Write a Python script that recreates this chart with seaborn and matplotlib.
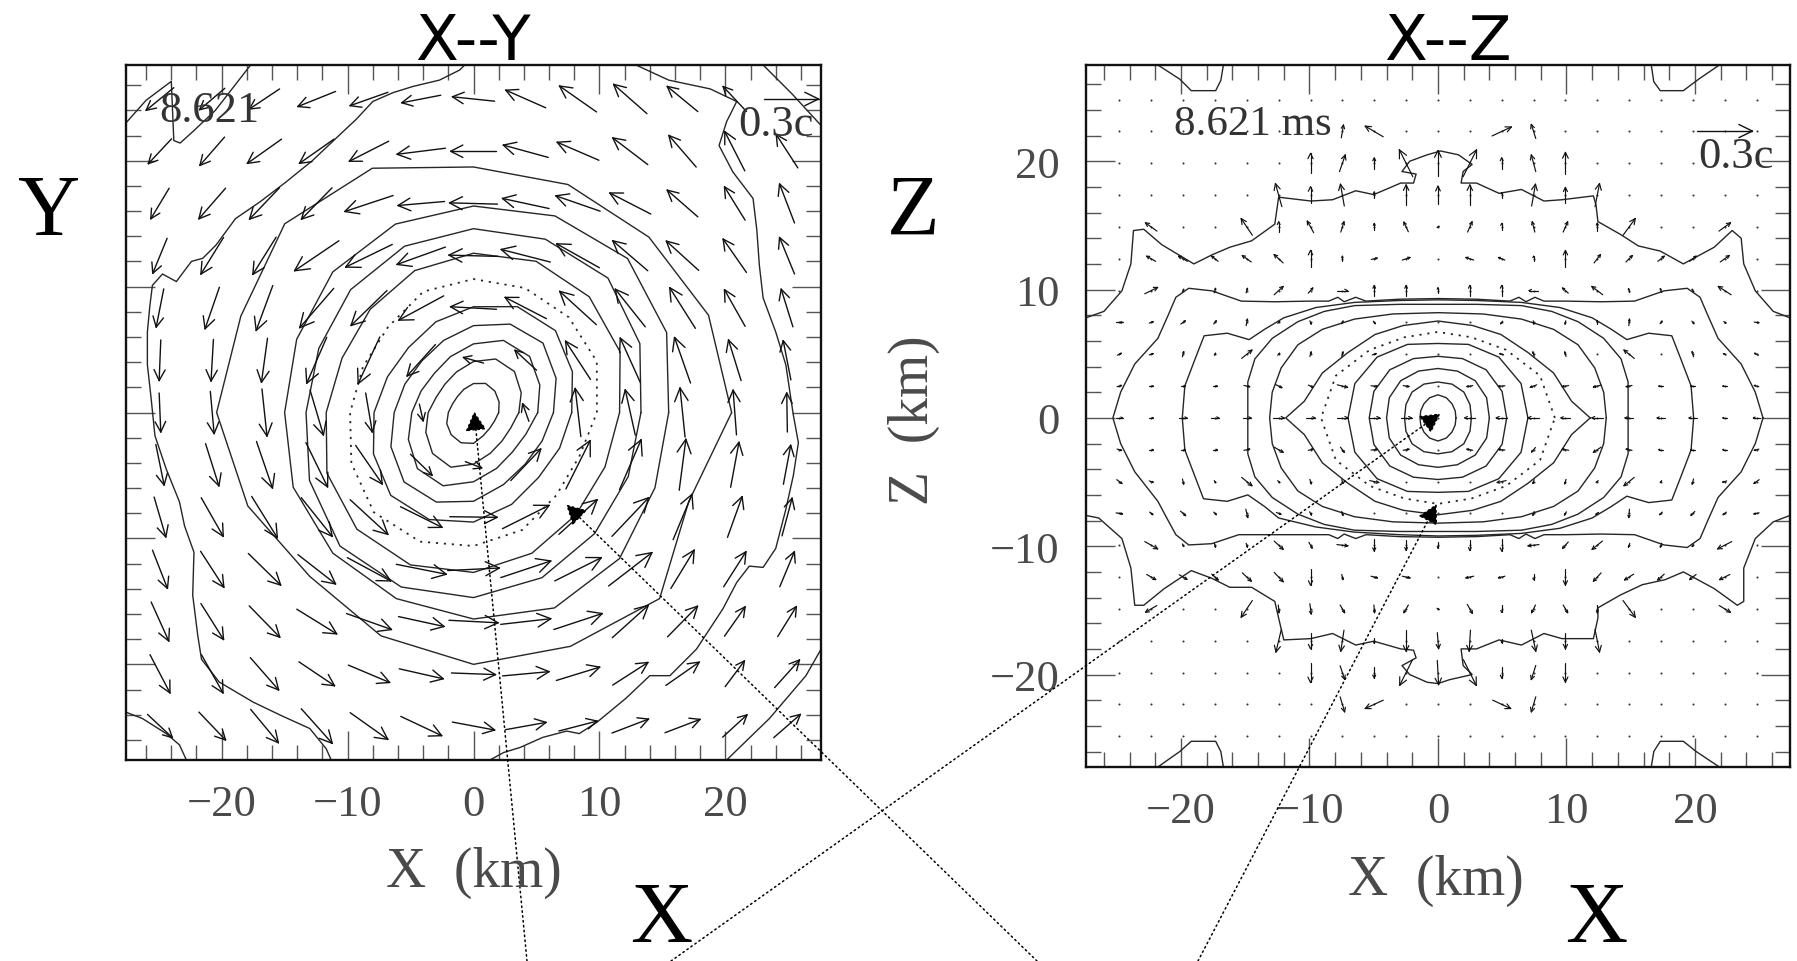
import numpy as np
import pandas as pd
import matplotlib
matplotlib.use("Agg")
import matplotlib.pyplot as plt
from matplotlib.collections import LineCollection
from matplotlib.ticker import MultipleLocator, FixedLocator
import seaborn as sns

# ============================ DATA (km) ============================
TICKS = [-20, -10, 0, 10, 20]

# ---- X--Y panel : velocity field on a 13x13 grid (rows from y=+24.9 down to y=-24.9)
XY_GRID = [-24.9, -20.75, -16.6, -12.45, -8.3, -4.15, 0.0, 4.15, 8.3, 12.45, 16.6, 20.75, 24.9]
nan = float("nan")
XY_U = [
    [-2.2, -2.0, -2.4, -3.0, -3.0, -3.1, -3.35, -3.17, -2.94, -2.65, -2.43, -1.85, nan],
    [-1.85, -1.96, -2.72, -2.75, -3.12, -3.84, -3.63, -3.57, -3.31, -2.78, -2.17, -1.59, -1.72],
    [-1.46, -2.12, -2.38, -2.43, -3.84, -3.7, -3.8, -3.7, -3.52, -3.25, -2.43, -1.64, -1.19],
    [-1.14, -1.8, -1.85, -3.52, -3.7, -3.84, -3.9, -3.9, -3.39, -2.78, -2.57, -1.85, -1.19],
    [-0.6, -1.14, -1.32, -2.7, -2.86, -3.57, -3.65, -3.28, -2.91, -2.38, -2.04, -1.64, -0.93],
    [-0.13, -0.19, -0.48, -1.59, -1.72, -2.25, -1.6, -1.72, -1.98, -1.59, -1.27, -1.0, -0.61],
    [0.13, 0.3, 0.4, 1.06, 0.53, 0.3, nan, -0.5, -0.45, -0.8, -0.4, -0.27, -0.05],
    [0.66, 1.06, 1.27, 1.72, 2.12, 1.72, 1.3, 2.38, 1.93, 1.72, 0.53, 0.66, 0.58],
    [0.93, 1.75, 2.04, 2.46, 2.99, 3.3, 3.76, 3.7, 3.04, 2.91, 1.5, 1.16, 0.8],
    [1.19, 1.85, 2.57, 2.99, 3.44, 3.97, 4.1, 3.97, 3.7, 3.44, 1.85, 1.77, 1.16],
    [1.4, 1.8, 2.43, 3.17, 3.57, 3.62, 3.9, 3.97, 3.84, 2.86, 2.38, 1.64, 1.48],
    [1.59, 1.72, 2.25, 2.83, 3.28, 3.49, 3.5, 3.7, 3.44, 2.8, 2.65, 1.53, 1.98],
    [1.98, 2.12, 2.2, 2.46, 2.99, 3.25, 3.36, 3.23, 3.04, 2.9, 2.78, 1.93, 2.12],
]
XY_V = [
    [-1.8, -1.7, -1.6, -1.2, -1.06, -0.6, 0.35, 1.4, 2.06, 2.33, 2.0, 1.98, nan],
    [-1.98, -2.25, -1.93, -1.93, -1.59, -0.48, 0.0, 0.98, 1.43, 2.12, 2.51, 3.12, 2.65],
    [-2.43, -2.43, -2.49, -2.49, -1.27, -0.32, 0.1, 0.8, 1.22, 1.67, 2.12, 2.65, 3.1],
    [-2.78, -2.91, -2.96, -2.38, -1.8, -1.38, 0.1, 1.0, 1.9, 2.38, 2.33, 2.65, 2.9],
    [-3.04, -3.3, -3.57, -3.12, -2.78, -1.93, 0.2, 1.69, 2.65, 2.99, 3.23, 2.91, 2.99],
    [-3.23, -3.3, -3.5, -3.65, -3.7, -2.5, 0.45, 1.59, 3.04, 3.52, 3.62, 3.23, 3.12],
    [-3.1, -3.36, -3.75, -3.57, -3.1, -1.33, nan, 1.4, 3.83, 3.6, 3.9, 3.55, 3.1],
    [-3.23, -3.36, -3.7, -3.52, -3.07, -1.67, -0.5, 2.51, 3.84, 3.97, 4.05, 3.57, 3.1],
    [-3.17, -3.07, -3.28, -3.07, -2.75, -1.64, -0.05, 1.85, 2.75, 3.07, 3.6, 3.23, 2.99],
    [-3.04, -2.86, -2.51, -2.33, -1.85, -0.79, 0.2, 1.32, 1.85, 2.65, 3.04, 2.78, 2.78],
    [-3.1, -2.86, -2.49, -1.96, -1.27, -0.79, -0.2, 0.45, 1.27, 2.57, 2.43, 2.33, 2.38],
    [-3.04, -3.04, -2.57, -1.9, -1.38, -0.79, -0.13, 0.34, 1.06, 1.8, 1.85, 2.04, 2.2],
    [-1.85, -2.22, -2.65, -2.75, -2.12, -1.53, -0.63, 0.58, 0.79, 1.11, 1.06, 1.77, 1.85],
]

# ---- X--Y panel : closed density contours, radius (km) read every 22.5 deg
ANGLES = [0, 22.5, 45, 67.5, 90, 112.5, 135, 157.5, 180, 202.5, 225, 247.5, 270, 292.5, 315, 337.5]
XY_RADII = [
    [2.0, 2.2, 2.4, 2.5, 2.3, 2.0, 1.8, 1.8, 2.0, 2.3, 2.5, 2.6, 2.45, 2.0, 1.8, 1.8],
    [3.6, 4.1, 4.6, 4.6, 4.05, 3.5, 3.2, 3.2, 3.6, 4.1, 4.6, 4.7, 4.1, 3.5, 3.2, 3.2],
    [5.1, 5.7, 6.3, 6.2, 5.45, 4.8, 4.4, 4.5, 4.9, 5.6, 6.3, 6.3, 5.5, 4.8, 4.4, 4.5],
    [6.35, 7.1, 7.8, 7.6, 6.9, 6.2, 5.8, 5.9, 6.3, 7.1, 7.8, 7.7, 7.05, 6.2, 5.8, 5.9],
    [7.8, 8.5, 9.2, 9.1, 8.4, 7.8, 7.3, 7.4, 7.9, 8.6, 9.3, 9.2, 8.7, 7.9, 7.3, 7.4],
    [11.6, 12.6, 13.0, 13.0, 12.65, 12.2, 11.6, 11.3, 11.7, 12.6, 13.1, 13.1, 12.7, 12.1, 11.5, 11.3],
    [13.3, 14.3, 15.1, 14.9, 14.6, 14.3, 13.8, 13.3, 13.3, 14.1, 15.0, 15.0, 14.7, 14.2, 13.6, 13.3],
    [15.5, 16.6, 17.3, 16.9, 16.4, 16.2, 15.8, 15.2, 15.0, 15.5, 15.8, 16.0, 16.4, 16.8, 16.4, 15.6],
    [20.5, 20.2, 19.7, 19.6, 19.5, 21.0, 21.2, 20.0, 20.4, 19.4, 18.4, 19.2, 20.0, 20.1, 20.9, 18.5],
]
XY_DOTTED_RADII = [9.8, 10.6, 10.7, 10.7, 10.6, 10.4, 9.6, 9.5, 9.8, 10.5, 11.2, 11.1, 10.6, 10.1, 9.3, 9.1]

# ---- X--Y panel : open outer contours (x, y) pairs
XY_OUTER_LEFT = [(-0.7, 27.6), (-1.1, 27.2), (-2.7, 26.4), (-4.8, 25.9), (-6.4, 25.4), (-8.0, 24.7),
                 (-9.3, 23.3), (-10.9, 21.8), (-12.8, 20.0), (-14.9, 18.3), (-17.0, 16.7), (-18.9, 15.4),
                 (-20.45, 13.3), (-21.5, 12.25), (-22.4, 12.0), (-23.6, 10.4), (-24.7, 11.0), (-25.5, 10.1),
                 (-25.7, 8.5), (-25.9, 6.4), (-25.9, 3.8), (-25.6, 1.1), (-25.3, -1.84), (-24.4, -4.5),
                 (-23.35, -7.1), (-22.95, -9.0), (-22.2, -11.1), (-22.3, -14.5), (-21.9, -17.7),
                 (-21.6, -19.6), (-20.2, -21.4), (-17.5, -23.0), (-15.2, -24.1), (-13.0, -25.1),
                 (-11.7, -26.7), (-11.3, -27.6)]
XY_OUTER_RIGHT = [(12.9, 27.6), (15.5, 26.4), (18.8, 25.7), (20.9, 24.7), (20.1, 23.1), (19.5, 21.2),
                  (20.6, 19.1), (22.2, 17.0), (22.5, 14.5), (22.7, 11.7), (23.0, 9.1), (24.0, 6.4),
                  (24.8, 3.8), (25.4, -0.2), (25.8, -2.4), (25.4, -5.0), (24.8, -7.7), (24.0, -10.8),
                  (23.0, -12.3), (21.9, -12.2), (20.9, -13.5), (19.8, -15.6), (17.7, -18.8), (15.6, -20.9),
                  (14.0, -20.9), (12.1, -22.7), (9.8, -24.6), (8.4, -25.5), (7.4, -25.3), (5.5, -25.8),
                  (3.7, -26.6), (2.4, -27.0), (1.3, -27.6)]
XY_CORNER_TL = [(-27.6, 23.0), (-26.0, 24.8), (-24.0, 26.3), (-23.8, 21.6), (-23.3, 21.4),
                (-22.3, 22.3), (-20.5, 24.0), (-17.7, 27.6)]
XY_CORNER_TR = [(23.0, 27.6), (25.3, 25.3), (27.6, 22.8)]
XY_CORNER_BL = [(-27.6, -23.8), (-26.3, -24.3), (-24.4, -25.5), (-23.35, -26.4), (-22.8, -27.6)]
XY_CORNER_BR = [(20.1, -27.6), (23.5, -24.3), (26.4, -20.9), (27.6, -18.8)]

# ---- X--Z panel : grid and non-zero velocity arrows (i, j, vx, vz); all other nodes ~ 0
XZ_GRID = [-24.8, -22.32, -19.84, -17.36, -14.88, -12.4, -9.92, -7.44, -4.96, -2.48, 0.0,
           2.48, 4.96, 7.44, 9.92, 12.4, 14.88, 17.36, 19.84, 22.32, 24.8]
XZ_ARROWS = [
    (-3, 9, 0.17, 1.0), (-2, 9, -1.4, 0.83), (2, 9, 1.5, 0.7), (3, 9, -0.35, 1.1),
    (-4, 8, 0, 1.55), (-3, 8, 0.45, 1.3), (-2, 8, 0, 0.85), (-1, 8, -1.05, 2.1), (0, 8, 0, 2.0),
    (1, 8, 1.05, 2.1), (2, 8, 0, 0.85), (3, 8, -0.35, 1.3), (4, 8, 0, 1.7),
    (-5, 7, -0.5, 1.8), (-4, 7, 0, 1.3), (-3, 7, -0.3, 1.7), (-2, 7, 0, 0.5), (-1, 7, 0, 1.6),
    (0, 7, 0, 1.4), (1, 7, 0, 1.6), (2, 7, 0, 0.4), (3, 7, 0.3, 1.7), (4, 7, 0, 1.2), (5, 7, 0.35, 1.8),
    (-9, 6, -0.9, 0.65), (-6, 6, -0.87, 1.3), (-5, 6, 0, 0.8), (-4, 6, -0.5, 0.9), (-3, 6, 0.25, 0.8),
    (-2, 6, 0, 0.55), (-1, 6, -0.35, 0.75), (0, 6, 0.15, 0.1), (1, 6, 0.35, 0.8), (2, 6, 0, 0.55),
    (3, 6, -0.2, 0.8), (4, 6, 0.35, 0.8), (5, 6, 0, 0.6), (6, 6, 0.95, 1.3), (9, 6, 0.9, 0.65),
    (-9, 5, -0.7, 0.4), (-8, 5, -0.7, 0.4), (-7, 5, -0.5, 0.4), (-6, 5, -0.7, 0.5), (-5, 5, -0.7, 0.65),
    (-4, 5, 0, 1.3), (-3, 5, 0, 0.4), (-2, 5, 0.45, 0.1), (-1, 5, 0.6, 0.2), (1, 5, -0.6, 0.2),
    (2, 5, -0.5, 0.2), (3, 5, 0, 0.4), (4, 5, 0, 1.3), (5, 5, 0.5, 0.65), (6, 5, 0.5, 0.5),
    (7, 5, 0.5, 0.4), (8, 5, 0.5, 0.4), (9, 5, 0.7, 0.5),
    (-9, 4, 1.0, 0.5), (-8, 4, 0.1, 0.2), (-7, 4, 0.1, 0.35), (-6, 4, 0.1, 0.35), (-5, 4, 0.7, 0.65),
    (-4, 4, 0.35, 0.4), (-3, 4, 0.8, 0), (-2, 4, 0, 0.8), (-1, 4, 0, 0.8), (0, 4, 0, 0.45),
    (1, 4, 0, 0.8), (2, 4, 0, 0.8), (3, 4, -0.7, 0), (4, 4, -0.45, 0.4), (5, 4, -0.85, 0.65),
    (6, 4, -0.1, 0.3), (7, 4, -0.1, 0.3), (8, 4, -0.1, 0.2), (9, 4, -1.0, 0.65),
    (-10, 3, 0.5, 0), (-9, 3, 0.3, 0.1), (-8, 3, 0.35, 0.25), (-7, 3, 0.2, 0.25), (-6, 3, 0.1, 0.5),
    (-5, 3, 0.15, 0.15), (-4, 3, 0.1, -0.25), (-3, 3, 0.1, 0.2), (-2, 3, 0.15, -0.2), (2, 3, -0.15, -0.2),
    (3, 3, 0.05, -0.25), (4, 3, -0.05, -0.25), (5, 3, 0, 0.3), (6, 3, 0.05, 0.5), (7, 3, 0.15, 0.2),
    (8, 3, 0.15, -0.2), (9, 3, 0.15, -0.15), (10, 3, 0.35, -0.05),
    (-10, 2, 0.3, 0.15), (-9, 2, 0.3, 0.1), (-8, 2, 0.1, 0.4), (-7, 2, 0.1, 0.15), (-6, 2, 0.8, 0.65),
    (-5, 2, 0.15, 0.15), (-4, 2, 0.1, 0.35), (-3, 2, 0.1, 0.35), (-2, 2, 0.3, 0.1), (2, 2, -0.3, 0.1),
    (3, 2, -0.1, 0.35), (4, 2, -0.1, 0.35), (6, 2, -0.8, 0.65), (8, 2, -0.1, 0.4), (9, 2, -0.2, 0.1),
    (10, 2, -0.3, 0.15),
    (-10, 1, 0.35, 0.1), (-9, 1, 0.3, 0), (-8, 1, 0.35, 0), (-7, 1, 0.35, 0), (-6, 1, 0.45, -0.1),
    (-5, 1, 0.5, -0.25), (-4, 1, 0.35, -0.15), (-3, 1, 0.8, -0.2), (-2, 1, 0.5, -0.05), (-1, 1, 0.45, -0.08),
    (1, 1, -0.45, -0.08), (2, 1, -0.5, -0.05), (3, 1, -0.5, -0.2), (4, 1, -0.5, -0.08), (5, 1, -0.6, -0.15),
    (6, 1, -0.45, -0.1), (7, 1, -0.35, 0), (8, 1, -0.35, 0), (9, 1, -0.3, 0), (10, 1, -0.35, 0.1),
    (-10, 0, 0.5, 0), (-9, 0, 0.3, 0), (-8, 0, 0.6, 0), (-7, 0, 0.6, 0), (-6, 0, 0.65, 0), (-5, 0, 0.85, 0),
    (-4, 0, 0.7, 0), (-3, 0, 0.85, 0), (-2, 0, 0.85, 0), (-1, 0, 0.85, 0), (1, 0, -0.8, 0), (2, 0, -0.85, 0),
    (3, 0, -0.85, 0), (4, 0, -0.7, 0), (5, 0, -0.85, 0), (6, 0, -0.65, 0), (7, 0, -0.6, 0), (8, 0, -0.6, 0),
    (9, 0, -0.3, 0), (10, 0, -0.5, 0),
    (-10, -1, 0.35, -0.1), (-9, -1, 0.3, 0), (-8, -1, 0.35, 0), (-7, -1, 0.35, 0), (-6, -1, 0.45, 0.1),
    (-5, -1, 0.7, -0.4), (-4, -1, 0.35, 0.1), (-3, -1, 0.3, -0.4), (-2, -1, 0.5, 0.05), (-1, -1, 0.45, 0.08),
    (1, -1, -0.45, 0.08), (2, -1, -0.5, 0.05), (3, -1, -0.3, -0.35), (4, -1, -0.5, 0.08), (5, -1, -0.6, -0.4),
    (6, -1, -0.45, 0.1), (7, -1, -0.35, 0), (8, -1, -0.35, 0), (9, -1, -0.3, 0), (10, -1, -0.35, -0.1),
    (-10, -2, 0.4, -0.3), (-9, -2, 0.3, -0.1), (-8, -2, 0.1, -0.4), (-7, -2, 0.1, -0.15), (-6, -2, 0.8, -0.65),
    (-5, -2, 0.15, -0.15), (-4, -2, 0.1, -0.35), (-3, -2, 0.1, -0.3), (-2, -2, 0.7, -0.15), (2, -2, -0.7, -0.15),
    (3, -2, -0.1, -0.3), (4, -2, -0.1, -0.35), (5, -2, -0.15, -0.15), (6, -2, -0.8, -0.65), (7, -2, -0.1, -0.15),
    (8, -2, -0.1, -0.4), (9, -2, -0.3, -0.1), (10, -2, -0.4, -0.3),
    (-10, -3, 0.5, -0.08), (-9, -3, 0.25, -0.2), (-8, -3, 0.4, -0.35), (-7, -3, 0.2, -0.2), (-6, -3, 0.15, -0.65),
    (-5, -3, 0.35, -0.15), (-4, -3, 0.15, -0.25), (-3, -3, 0.1, -0.3), (3, -3, -0.1, -0.3), (4, -3, -0.15, -0.25),
    (5, -3, -0.2, -0.15), (6, -3, -0.05, -0.65), (7, -3, -0.2, -0.2), (8, -3, -0.3, -0.3), (9, -3, -0.25, -0.2),
    (10, -3, -0.4, -0.08),
    (-9, -4, 1.0, -0.57), (-8, -4, 0.1, -0.2), (-7, -4, 0.1, -0.3), (-6, -4, 0.1, -0.3), (-5, -4, 0.7, -0.65),
    (-4, -4, 0.25, -0.45), (-3, -4, 0.85, -0.1), (-2, -4, 0, -0.9), (-1, -4, 0, -0.8), (0, -4, 0, -0.45),
    (1, -4, 0, -0.8), (2, -4, 0, -0.9), (3, -4, -0.85, -0.1), (4, -4, -0.45, -0.5), (5, -4, -0.8, -0.65),
    (6, -4, -0.1, -0.3), (7, -4, -0.1, -0.3), (8, -4, -0.1, -0.2), (9, -4, -1.1, -0.57),
    (-9, -5, 0.7, -0.4), (-8, -5, 0.6, -0.36), (-7, -5, 0.5, -0.45), (-6, -5, 0.7, -0.65), (-5, -5, 0.7, -0.73),
    (-4, -5, 0, -1.25), (-3, -5, 0.1, -0.4), (-2, -5, 0.5, -0.13), (-1, -5, 0.6, -0.13), (1, -5, -0.6, -0.13),
    (2, -5, -0.5, -0.13), (3, -5, 0, -0.4), (4, -5, 0, -1.25), (5, -5, -0.6, -0.65), (6, -5, -0.7, -0.45),
    (7, -5, -0.5, -0.45), (8, -5, -0.5, -0.4), (9, -5, -0.8, -0.4),
    (-9, -6, -0.87, -0.52), (-6, -6, -0.87, -1.3), (-5, -6, 0.05, -0.6), (-4, -6, 0.1, -0.8), (-3, -6, 0.35, -0.6),
    (-2, -6, 0.05, -0.6), (-1, -6, -0.35, -0.6), (0, -6, 0.15, -0.1), (1, -6, 0.4, -0.7), (2, -6, 0, -0.55),
    (3, -6, -0.3, -0.6), (4, -6, 0.35, -0.6), (5, -6, 0, -0.6), (6, -6, 0.95, -1.3), (9, -6, 0.87, -0.52),
    (-5, -7, -0.42, -1.77), (-4, -7, 0, -1.25), (-3, -7, -0.25, -1.64), (-2, -7, 0, -0.4), (-1, -7, 0, -1.64),
    (0, -7, 0.1, -1.25), (1, -7, -0.1, -1.64), (2, -7, 0, -0.3), (3, -7, 0.35, -1.64), (4, -7, 0, -1.25),
    (5, -7, 0.35, -1.77),
    (-4, -8, 0, -1.55), (-3, -8, 0.35, -1.05), (-2, -8, 0, -0.85), (-1, -8, -1.0, -2.0), (0, -8, 0.1, -1.9),
    (1, -8, 1.0, -2.0), (2, -8, 0, -0.85), (3, -8, -0.35, -1.1), (4, -8, 0, -1.5),
    (-3, -9, 0.35, -1.17), (-2, -9, -1.4, -0.65), (2, -9, 1.4, -0.65), (3, -9, -0.35, -1.17),
]

# ---- X--Z panel : inner contours, radius every 22.5 deg
XZ_RADII = [
    [1.4, 1.45, 1.55, 1.7, 1.8, 1.7, 1.55, 1.45, 1.4, 1.45, 1.55, 1.7, 1.8, 1.7, 1.55, 1.45],
    [2.6, 2.7, 2.85, 2.85, 2.8, 2.85, 2.85, 2.7, 2.6, 2.7, 2.85, 2.85, 2.8, 2.85, 2.85, 2.7],
    [4.0, 4.1, 4.1, 3.95, 3.85, 3.95, 4.1, 4.1, 4.0, 4.1, 4.1, 3.95, 3.85, 3.95, 4.1, 4.1],
    [5.35, 5.4, 5.3, 5.0, 4.8, 5.0, 5.3, 5.4, 5.35, 5.4, 5.3, 5.0, 4.8, 5.0, 5.3, 5.4],
    [7.0, 7.0, 6.7, 6.2, 5.8, 6.2, 6.7, 7.0, 7.0, 7.0, 6.7, 6.2, 5.8, 6.2, 6.7, 7.0],
]
XZ_DOTTED_RADII = [9.1, 8.6, 7.5, 6.8, 6.7, 6.8, 7.5, 8.6, 9.1, 8.6, 7.5, 6.8, 6.7, 6.8, 7.5, 8.6]

# ---- X--Z panel : outer contours as (x, z) pairs
XZ_LENS = [(11.85, 0), (10.4, 1.3), (9.0, 3.5), (7.0, 5.1), (4.9, 6.5), (2.7, 7.2), (0, 7.55), (-2.7, 7.2),
           (-4.9, 6.5), (-7.0, 5.1), (-9.0, 3.5), (-10.4, 1.3), (-11.85, 0), (-10.4, -1.3), (-9.0, -3.5),
           (-7.0, -5.1), (-4.9, -6.5), (-2.7, -7.2), (0, -7.55), (2.7, -7.2), (4.9, -6.5), (7.0, -5.1),
           (9.0, -3.5), (10.4, -1.3), (11.85, 0)]
XZ_C13 = [(13.1, 0), (12.9, 2.0), (12.2, 3.9), (10.9, 5.7), (9.0, 6.9), (6.5, 7.7), (3.5, 8.1), (0, 8.2),
          (-3.5, 8.1), (-6.5, 7.7), (-9.0, 6.9), (-10.9, 5.7), (-12.2, 3.9), (-12.9, 2.0), (-13.1, 0),
          (-12.9, -2.0), (-12.2, -3.9), (-10.9, -5.7), (-9.0, -6.9), (-6.5, -7.7), (-3.5, -8.1), (0, -8.2),
          (3.5, -8.1), (6.5, -7.7), (9.0, -6.9), (10.9, -5.7), (12.2, -3.9), (12.9, -2.0), (13.1, 0)]
XZ_C15 = [(14.8, 0), (14.8, 2.8), (14.25, 4.6), (12.9, 6.2), (10.9, 7.5), (8.85, 8.3), (6.5, 8.75), (3.0, 8.85),
          (0, 8.85), (-3.0, 8.85), (-6.5, 8.75), (-8.85, 8.3), (-10.9, 7.5), (-12.9, 6.2), (-14.25, 4.6),
          (-14.8, 2.8), (-14.8, 0), (-14.8, -2.8), (-14.25, -4.6), (-12.9, -6.2), (-10.9, -7.5), (-8.85, -8.3),
          (-6.5, -8.75), (-3.0, -8.85), (0, -8.85), (3.0, -8.85), (6.5, -8.75), (8.85, -8.3), (10.9, -7.5),
          (12.9, -6.2), (14.25, -4.6), (14.8, -2.8), (14.8, 0)]
XZ_C20 = [(19.9, 0), (19.7, 2.5), (18.9, 4.6), (18.2, 6.4), (16.4, 6.6), (14.7, 6.1), (13.5, 6.9), (12.0, 7.8),
          (9.5, 8.6), (6.5, 9.0), (3.0, 9.15), (0, 9.2), (-3.0, 9.15), (-6.5, 9.0), (-9.5, 8.6), (-12.0, 7.8),
          (-13.5, 6.9), (-14.7, 6.1), (-16.4, 6.6), (-18.2, 6.4), (-18.9, 4.6), (-19.7, 2.5), (-19.9, 0),
          (-19.7, -2.5), (-18.9, -4.6), (-18.25, -6.3), (-16.4, -6.5), (-14.8, -6.0), (-13.5, -6.9),
          (-12.4, -7.8), (-9.5, -8.5), (-6.5, -8.9), (-3.0, -9.1), (0, -9.2), (3.0, -9.15), (6.5, -9.0),
          (9.5, -8.6), (12.0, -7.8), (13.5, -6.9), (14.7, -6.1), (16.4, -6.6), (18.2, -6.4), (18.9, -4.6),
          (19.7, -2.5), (19.9, 0)]
XZ_C25 = [(25.3, 0), (24.7, 2.0), (23.6, 4.2), (21.8, 6.2), (21.0, 8.0), (20.4, 9.4), (19.4, 10.1), (17.6, 9.9),
          (15.3, 9.1), (12.7, 9.05), (10.0, 9.1), (8.25, 9.1), (7.55, 9.4), (6.85, 9.05), (6.3, 9.4), (5.6, 9.1),
          (3.0, 9.25), (0, 9.3), (-3.0, 9.25), (-5.6, 9.1), (-6.4, 9.4), (-7.3, 9.05), (-7.8, 9.4), (-8.5, 9.1),
          (-10.0, 9.1), (-12.7, 9.05), (-15.3, 9.1), (-17.6, 9.9), (-19.4, 10.1), (-20.4, 9.4), (-21.0, 8.0),
          (-21.8, 6.2), (-23.6, 4.2), (-24.7, 2.0), (-25.3, 0), (-24.7, -2.0), (-23.6, -4.2), (-21.8, -6.5),
          (-21.0, -8.0), (-20.4, -9.1), (-19.4, -9.9), (-17.6, -9.8), (-15.5, -9.1), (-12.0, -9.1),
          (-10.0, -9.1), (-8.5, -9.1), (-7.8, -9.4), (-7.3, -9.05), (-6.4, -9.4), (-5.6, -9.1), (-3.0, -9.25),
          (0, -9.3), (3.0, -9.25), (5.6, -9.1), (6.3, -9.4), (6.85, -9.05), (7.55, -9.4), (8.25, -9.1),
          (10.0, -9.1), (12.7, -9.05), (15.3, -9.1), (17.6, -9.9), (19.4, -10.1), (20.4, -9.4), (21.0, -8.0),
          (21.8, -6.2), (23.6, -4.2), (24.7, -2.0), (25.3, 0)]
XZ_OUTER_TOP = [(-27.4, 7.8), (-26.0, 8.3), (-24.6, 9.9), (-23.9, 12.0), (-23.7, 14.6), (-22.9, 14.7),
                (-21.5, 13.5), (-19.0, 12.0), (-17.6, 12.7), (-16.2, 13.3), (-14.5, 13.8), (-12.7, 15.1),
                (-12.4, 17.2), (-9.9, 16.9), (-8.2, 17.0), (-6.4, 17.7), (-5.0, 17.4), (-2.9, 18.3),
                (-1.9, 18.3), (-1.7, 19.0), (-2.8, 19.2), (-2.2, 20.0), (-0.84, 20.5), (0.2, 20.8),
                (1.6, 20.5), (2.66, 19.75), (1.96, 19.2), (1.8, 18.3), (3.0, 18.3), (4.75, 17.5), (6.5, 17.8),
                (8.25, 16.9), (9.65, 17.0), (12.1, 17.3), (12.3, 16.6), (12.45, 15.3), (14.2, 14.3),
                (15.6, 13.4), (17.3, 13.0), (19.1, 12.0), (21.5, 13.3), (22.9, 14.6), (23.6, 14.0),
                (23.8, 12.0), (24.7, 9.9), (26.1, 8.3), (27.4, 7.8)]
XZ_OUTER_BOTTOM = [(-27.4, -7.6), (-26.4, -7.8), (-24.6, -9.4), (-23.9, -11.7), (-23.6, -14.6), (-22.9, -14.6),
                   (-21.3, -13.3), (-19.2, -11.9), (-17.6, -12.5), (-16.2, -13.2), (-14.5, -13.2),
                   (-12.7, -14.3), (-12.4, -15.6), (-12.0, -17.3), (-9.9, -17.2), (-8.2, -16.8), (-6.4, -17.7),
                   (-5.0, -17.4), (-2.9, -18.0), (-1.9, -18.1), (-1.7, -18.7), (-2.8, -19.3), (-2.2, -20.0),
                   (-0.84, -20.6), (0, -20.7), (0.9, -20.4), (2.66, -20.0), (1.96, -19.3), (1.8, -18.0),
                   (3.0, -18.0), (4.75, -17.3), (6.5, -17.7), (8.25, -16.8), (9.65, -17.2), (12.1, -17.2),
                   (12.45, -15.6), (12.45, -14.8), (14.2, -13.8), (15.9, -13.0), (17.7, -12.6), (19.1, -12.0),
                   (21.5, -13.3), (23.3, -14.6), (23.8, -14.3), (23.8, -11.7), (24.7, -9.4), (26.1, -8.1),
                   (27.4, -7.6)]
XZ_BLOB_TL = [(-21.8, 27.5), (-20.1, 26.4), (-19.2, 25.5), (-17.3, 25.5), (-16.9, 26.3), (-16.7, 27.5)]
XZ_BLOB_TR = [(16.6, 27.5), (16.8, 26.2), (17.3, 25.5), (19.1, 25.5), (20.3, 26.4), (21.9, 27.5)]
XZ_BLOB_BL = [(-21.8, -27.2), (-20.1, -26.0), (-19.2, -25.2), (-17.3, -25.2), (-16.9, -26.0), (-16.7, -27.2)]
XZ_BLOB_BR = [(16.6, -27.2), (16.8, -26.0), (17.3, -25.2), (19.1, -25.2), (20.1, -26.0), (21.9, -27.2)]

# reference speed arrow (0.3c) length in km, and time label
REF_LEN = 4.35
TIME_LABEL = "8.621"

# ============================ STYLE ============================
sns.set_theme(style="white")
plt.rcParams["font.family"] = ["Liberation Serif", "DejaVu Serif"]
plt.rcParams["axes.unicode_minus"] = True
INK = "#111111"
GREY = "#4a4a4a"

fig = plt.figure(figsize=(17.97, 9.62), dpi=100)
ax1 = fig.add_axes([0.0701, 0.2089, 0.3868, 0.7225])
ax2 = fig.add_axes([0.6043, 0.2017, 0.3918, 0.7297])


def polar_curve(radii):
    th = np.deg2rad(np.array(ANGLES + [ANGLES[0]]))
    r = np.array(radii + [radii[0]])
    return list(r * np.cos(th)), list(r * np.sin(th))


def pairs_curve(pairs):
    return [p[0] for p in pairs], [p[1] for p in pairs]


def draw_curves(ax, curves, color, lw, ls="-"):
    rows = []
    for cid, (xs, ys) in enumerate(curves):
        for k, (x, y) in enumerate(zip(xs, ys)):
            rows.append((cid, k, x, y))
    df = pd.DataFrame(rows, columns=["cid", "k", "x", "y"])
    sns.lineplot(data=df, x="x", y="y", units="cid", estimator=None, sort=False,
                 color=color, lw=lw, linestyle=ls, ax=ax, legend=False, zorder=2)


def draw_arrows(ax, xc, yc, us, vs, lw, color, frac=0.28, hmin=0.0, ang=26):
    segs = []
    a = np.deg2rad(ang)
    for x, y, u, v in zip(xc, yc, us, vs):
        if not (np.isfinite(u) and np.isfinite(v)):
            continue
        L = np.hypot(u, v)
        if L < 0.12:
            continue
        tx, ty = x - u / 2, y - v / 2
        hx, hy = x + u / 2, y + v / 2
        segs.append([(tx, ty), (hx, hy)])
        h = min(0.5 * L, max(frac * L, hmin))
        d = np.arctan2(v, u) + np.pi
        for s in (a, -a):
            segs.append([(hx, hy), (hx + h * np.cos(d + s), hy + h * np.sin(d + s))])
    ax.add_collection(LineCollection(segs, colors=color, linewidths=lw, capstyle="round", zorder=3))


# ============================ X--Y panel ============================
xy_curves = [polar_curve(r) for r in XY_RADII]
xy_curves += [pairs_curve(c) for c in (XY_OUTER_LEFT, XY_OUTER_RIGHT, XY_CORNER_TL,
                                       XY_CORNER_TR, XY_CORNER_BL, XY_CORNER_BR)]
draw_curves(ax1, xy_curves, "#262626", 1.0)
draw_curves(ax1, [polar_curve(XY_DOTTED_RADII)], "#262626", 1.3, ls=(0, (1.2, 3.2)))

xs, ys, us, vs = [], [], [], []
for r in range(13):
    for c in range(13):
        xs.append(XY_GRID[c]); ys.append(XY_GRID[12 - r])
        us.append(XY_U[r][c]); vs.append(XY_V[r][c])
draw_arrows(ax1, xs, ys, us, vs, lw=1.0, color=INK, frac=0.3, hmin=0.7, ang=27)
draw_arrows(ax1, [27.4 - REF_LEN / 2], [24.9], [REF_LEN], [0.0], lw=1.0, color=INK, frac=0.28)
ax1.text(-21.0, 24.0, TIME_LABEL, ha="center", va="center", fontsize=32, color="#333333")
ax1.text(24.0, 22.9, "0.3c", ha="center", va="center", fontsize=32, color="#333333")

# ============================ X--Z panel ============================
xz_curves = [polar_curve(r) for r in XZ_RADII]
xz_curves += [pairs_curve(c) for c in (XZ_LENS, XZ_C13, XZ_C15, XZ_C20, XZ_C25, XZ_OUTER_TOP,
                                       XZ_OUTER_BOTTOM, XZ_BLOB_TL, XZ_BLOB_TR, XZ_BLOB_BL, XZ_BLOB_BR)]
draw_curves(ax2, xz_curves, "#262626", 1.0)
draw_curves(ax2, [polar_curve(XZ_DOTTED_RADII)], "#262626", 1.3, ls=(0, (1.2, 3.2)))

gx, gz = np.meshgrid(XZ_GRID, XZ_GRID)
ax2.scatter(gx.ravel(), gz.ravel(), s=2.2, color="#333333", linewidths=0, zorder=2)
draw_arrows(ax2, [XZ_GRID[a[0] + 10] for a in XZ_ARROWS], [XZ_GRID[a[1] + 10] for a in XZ_ARROWS],
            [a[2] for a in XZ_ARROWS], [a[3] for a in XZ_ARROWS], lw=0.85, color=INK, frac=0.3)
draw_arrows(ax2, [22.3], [22.35], [REF_LEN], [0.0], lw=1.0, color=INK, frac=0.27)
ax2.text(-14.4, 22.9, TIME_LABEL + " ms", ha="center", va="center", fontsize=31, color="#333333")
ax2.text(23.2, 20.4, "0.3c", ha="center", va="center", fontsize=32, color="#333333")

# ============================ axes cosmetics ============================
for ax, (xl, yl) in ((ax1, ((-27.6, 27.6), (-27.6, 27.6))), (ax2, ((-27.4, 27.4), (-27.2, 27.5)))):
    ax.set_xlim(*xl)
    ax.set_ylim(*yl)
    ax.set_xlabel("")
    ax.set_ylabel("")
    ax.xaxis.set_major_locator(FixedLocator(TICKS))
    ax.yaxis.set_major_locator(FixedLocator(TICKS))
    ax.xaxis.set_minor_locator(MultipleLocator(2))
    ax.yaxis.set_minor_locator(MultipleLocator(2))
    ax.tick_params(which="both", direction="in", top=True, right=True, bottom=True, left=True,
                   color="#555555", width=1.0)
    ax.tick_params(which="major", length=21)
    ax.tick_params(which="minor", length=11)
    ax.tick_params(axis="x", labelsize=32, labelcolor=GREY, pad=17)
    ax.tick_params(axis="y", labelsize=32, labelcolor=GREY, pad=19)
    for sp in ax.spines.values():
        sp.set_visible(True)
        sp.set_color("#111111")
        sp.set_linewidth(1.7)
    ax.set_facecolor("white")
ax1.tick_params(axis="y", labelleft=False)

# ============================ figure texts ============================
sans = ["DejaVu Sans"]
fig.text(0.2632, 0.9376, "X--Y", ha="center", va="baseline", fontsize=45, family=sans, color="black")
fig.text(0.8058, 0.9376, "X--Z", ha="center", va="baseline", fontsize=45, family=sans, color="black")
fig.text(0.0275, 0.7557, "Y", ha="center", va="baseline", fontsize=62, color="black")
fig.text(0.5080, 0.7557, "Z", ha="center", va="baseline", fontsize=62, color="black")
fig.text(0.3680, 0.0010, "X", ha="center", va="bottom", fontsize=62, color="black")
fig.text(0.8885, 0.0010, "X", ha="center", va="bottom", fontsize=62, color="black")
fig.text(0.2638, 0.0783, "X  (km)", ha="center", va="baseline", fontsize=40, color=GREY)
fig.text(0.7991, 0.0696, "X  (km)", ha="center", va="baseline", fontsize=40, color=GREY)
fig.text(0.5084, 0.5634, "Z  (km)", ha="center", va="center", rotation=90, fontsize=40, color=GREY)

# ============================ pointer lines ============================
W = 1797.0
pointer = dict(arrowstyle="-|>,head_length=0.55,head_width=0.3", linestyle=(0, (1, 2.2)), lw=1.1,
               color="black", mutation_scale=22, shrinkA=0, shrinkB=0)
ax1.annotate("", xy=(0.05, 0.1), xycoords="data", xytext=(527 / W, 0.0), textcoords="figure fraction",
             arrowprops=pointer, annotation_clip=False, zorder=10)
ax1.annotate("", xy=(7.35, -7.3), xycoords="data", xytext=(1037 / W, 0.0), textcoords="figure fraction",
             arrowprops=pointer, annotation_clip=False, zorder=10)
ax2.annotate("", xy=(0.2, 0.35), xycoords="data", xytext=(671 / W, 0.0), textcoords="figure fraction",
             arrowprops=pointer, annotation_clip=False, zorder=10)
ax2.annotate("", xy=(-0.1, -6.7), xycoords="data", xytext=(1198 / W, 0.0), textcoords="figure fraction",
             arrowprops=pointer, annotation_clip=False, zorder=10)

fig.savefig("out.png", dpi=100)
